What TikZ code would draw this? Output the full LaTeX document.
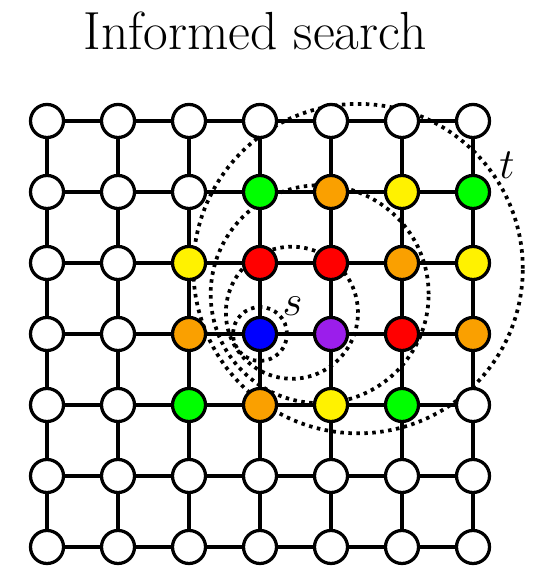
\documentclass[tikz,border=0pt]{standalone}
\usetikzlibrary{calc,backgrounds}

\definecolor{nodeorange}{RGB}{250,160,0}
\definecolor{nodepurple}{RGB}{155,30,235}

\begin{document}
\begin{tikzpicture}[
		vertex/.style={circle, draw, fill=white, line width=1.3pt, inner sep=0pt, minimum size=0.465cm},
		edge/.style={line width=1.3pt},
		ball/.style={line width=1.5pt, dash pattern=on 1.4pt off 1.8pt},
	]
		\useasboundingbox (-0.662,-0.31) rectangle (6.859,7.704);

		% Title
		\node[anchor=base, font=\fontsize{21.5}{25}\selectfont] (title) at (2.93,7.0) {Informed search};

		% Grid vertices, one row of fill colours per y
		\foreach \y/\cols in {
				6/{white,white,white,white,white,white,white},
				5/{white,white,white,green,nodeorange,yellow,green},
				4/{white,white,yellow,red,red,nodeorange,yellow},
				3/{white,white,nodeorange,blue,nodepurple,red,nodeorange},
				2/{white,white,green,nodeorange,yellow,green,white},
				1/{white,white,white,white,white,white,white},
				0/{white,white,white,white,white,white,white}}
			\foreach \c [count=\i] in \cols {
				\pgfmathtruncatemacro{\x}{\i-1}
				\node[vertex, fill=\c] (n-\x-\y) at (\x,\y) {};
			}

		% Grid edges
		\foreach \x in {0,...,6}
			\foreach \y in {0,...,5} {
				\pgfmathtruncatemacro{\yy}{\y+1}
				\draw[edge] (n-\x-\y) -- (n-\x-\yy);
				\draw[edge] (n-\y-\x) -- (n-\yy-\x);
			}

		% Search frontiers, pulled towards the target
		\begin{scope}[on background layer]
			\foreach \d/\r in {0/0.38, 0.54/0.93, 1.01/1.535, 1.66/2.32}
				\draw[ball] ($(n-3-3)!\d cm!(n-6-5)$) circle (\r);
		\end{scope}

		\node[font=\fontsize{18}{20}\selectfont] (s-label) at (3.46,3.39) {$s$};
		\node[font=\fontsize{18}{20}\selectfont] (t-label) at (6.48,5.38) {$t$};
	\end{tikzpicture}
\end{document}
